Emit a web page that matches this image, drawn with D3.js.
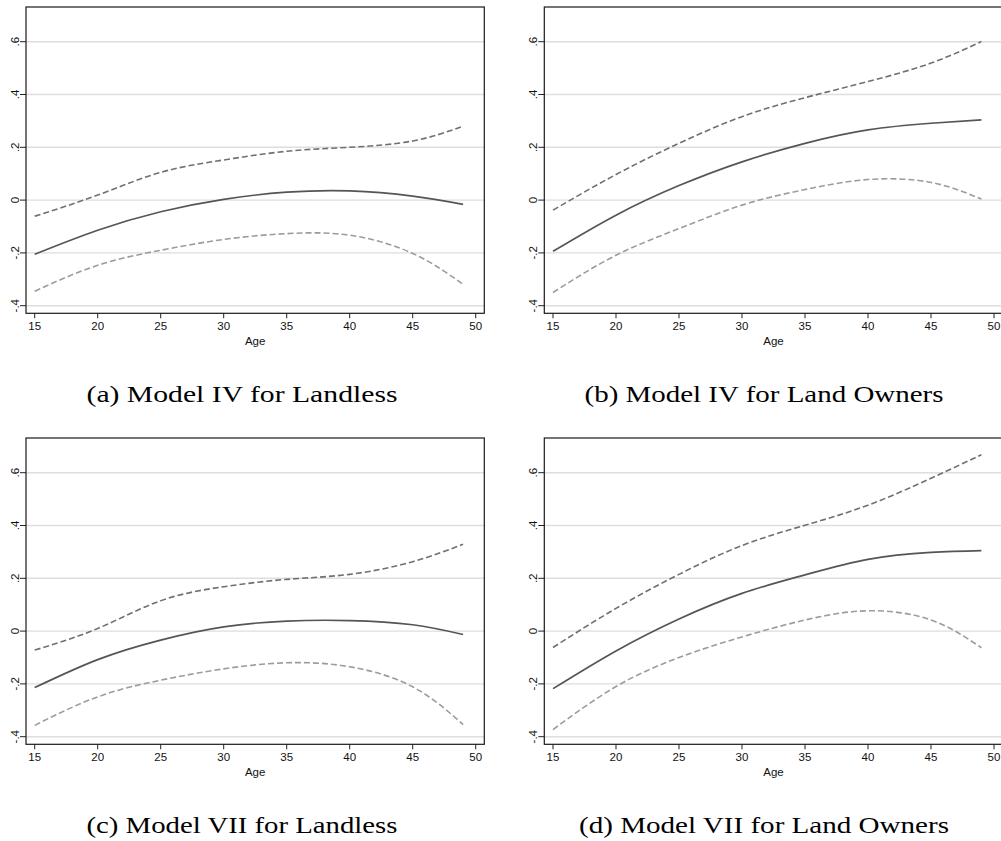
<!DOCTYPE html>
<html>
<head>
<meta charset="utf-8">
<script src="https://cdn.jsdelivr.net/npm/d3@7"></script>
<style>
  body { margin: 0; background: #fff; }
  .tick-label { font-family: "Liberation Sans", Arial, sans-serif; font-size: 11.5px; fill: #111; }
  .axis-title { font-family: "Liberation Sans", Arial, sans-serif; font-size: 11.5px; fill: #111; }
  .caption { font-family: "Liberation Serif", "DejaVu Serif", serif; font-size: 23px; fill: #000; }
</style>
</head>
<body>
<div id="chart"></div>
<script>
//=========Data=========//
// ages where the fitted curves were read off
var ages = [15, 20, 25, 30, 35, 40, 45, 49];

// (a) Model IV for Landless
var fitA = [-0.205, -0.114, -0.044, 0.003, 0.030, 0.035, 0.015, -0.016];
var upperA = [-0.061, 0.019, 0.105, 0.152, 0.185, 0.200, 0.224, 0.280];
var lowerA = [-0.345, -0.247, -0.190, -0.149, -0.127, -0.133, -0.202, -0.319];

// (b) Model IV for Land Owners
var fitB = [-0.194, -0.057, 0.055, 0.145, 0.215, 0.266, 0.291, 0.304];
var upperB = [-0.038, 0.097, 0.215, 0.316, 0.388, 0.449, 0.519, 0.601];
var lowerB = [-0.350, -0.209, -0.108, -0.019, 0.040, 0.078, 0.067, 0.004];

// (c) Model VII for Landless
var fitC = [-0.214, -0.108, -0.034, 0.016, 0.038, 0.040, 0.024, -0.013];
var upperC = [-0.072, 0.010, 0.115, 0.168, 0.196, 0.215, 0.263, 0.329];
var lowerC = [-0.357, -0.249, -0.186, -0.143, -0.120, -0.135, -0.211, -0.354];

// (d) Model VII for Land Owners
var fitD = [-0.218, -0.075, 0.046, 0.143, 0.213, 0.272, 0.298, 0.305];
var upperD = [-0.062, 0.086, 0.215, 0.324, 0.401, 0.477, 0.579, 0.668];
var lowerD = [-0.373, -0.210, -0.100, -0.022, 0.042, 0.077, 0.042, -0.063];

var captions = [
  "(a) Model IV for Landless",
  "(b) Model IV for Land Owners",
  "(c) Model VII for Landless",
  "(d) Model VII for Land Owners",
];
var captionWidths = [311, 359, 311, 370];

var xTicks = [15, 20, 25, 30, 35, 40, 45, 50];
var yTicks = [-0.4, -0.2, 0, 0.2, 0.4, 0.6];
var yTickLabels = ["-.4", "-.2", "0", ".2", ".4", ".6"];
var xTitle = "Age";

//=========Define SVG Area=========//
var svgWidth = 1001;
var svgHeight = 841;

var svg = d3
  .select("#chart")
  .append("svg")
  .attr("width", svgWidth)
  .attr("height", svgHeight);

// plot box size, same for all four panels
var boxW = 458.3;
var boxH = 306.3;

var xScale = d3.scaleLinear().domain([15, 50]).range([8.7, 449.7]);
var yScale = d3.scaleLinear().domain([-0.4, 0.6]).range([298.7, 34.7]);

var panels = [
  { left: 26, top: 7, fit: fitA, upper: upperA, lower: lowerA, capX: 242, capY: 395 },
  { left: 544.3, top: 7, fit: fitB, upper: upperB, lower: lowerB, capX: 764, capY: 395 },
  { left: 26, top: 438, fit: fitC, upper: upperC, lower: lowerC, capX: 242, capY: 826 },
  { left: 544.3, top: 438, fit: fitD, upper: upperD, lower: lowerD, capX: 764, capY: 826 },
];

var line = d3
  .line()
  .x((d) => xScale(d[0]))
  .y((d) => yScale(d[1]))
  .curve(d3.curveNatural);

panels.forEach(function (p, i) {
  var g = svg
    .append("g")
    .attr("transform", `translate(${p.left}, ${p.top})`);

  // gridlines
  g.selectAll(".grid")
    .data(yTicks)
    .enter()
    .append("line")
    .attr("x1", 0)
    .attr("x2", boxW)
    .attr("y1", (d) => yScale(d))
    .attr("y2", (d) => yScale(d))
    .attr("stroke", "#dedede")
    .attr("stroke-width", 1.4);

  // y axis ticks + rotated labels
  g.selectAll(".ytick")
    .data(yTicks)
    .enter()
    .append("line")
    .attr("x1", -6)
    .attr("x2", 0)
    .attr("y1", (d) => yScale(d))
    .attr("y2", (d) => yScale(d))
    .attr("stroke", "#222")
    .attr("stroke-width", 1);

  g.selectAll(".ylab")
    .data(yTicks)
    .enter()
    .append("text")
    .attr("class", "tick-label")
    .attr("text-anchor", "middle")
    .attr("transform", (d) => `translate(-7, ${yScale(d)}) rotate(-90)`)
    .text((d, j) => yTickLabels[j]);

  // x axis ticks + labels
  g.selectAll(".xtick")
    .data(xTicks)
    .enter()
    .append("line")
    .attr("x1", (d) => xScale(d))
    .attr("x2", (d) => xScale(d))
    .attr("y1", boxH)
    .attr("y2", boxH + 5)
    .attr("stroke", "#222")
    .attr("stroke-width", 1);

  g.selectAll(".xlab")
    .data(xTicks)
    .enter()
    .append("text")
    .attr("class", "tick-label")
    .attr("text-anchor", "middle")
    .attr("x", (d) => xScale(d))
    .attr("y", boxH + 17)
    .text((d) => d);

  g.append("text")
    .attr("class", "axis-title")
    .attr("text-anchor", "middle")
    .attr("x", boxW / 2)
    .attr("y", boxH + 32)
    .text(xTitle);

  // curves: upper CI, lower CI, fitted
  var series = [
    { vals: p.upper, color: "#707070", dash: "6,3", width: 1.6 },
    { vals: p.lower, color: "#9c9c9c", dash: "6,3", width: 1.6 },
    { vals: p.fit, color: "#555", dash: null, width: 1.7 },
  ];

  series.forEach(function (s) {
    g.append("path")
      .datum(ages.map((a, k) => [a, s.vals[k]]))
      .attr("fill", "none")
      .attr("stroke", s.color)
      .attr("stroke-width", s.width)
      .attr("stroke-dasharray", s.dash)
      .attr("d", line);
  });

  // plot border
  g.append("rect")
    .attr("x", 0)
    .attr("y", 0)
    .attr("width", boxW)
    .attr("height", boxH)
    .attr("fill", "none")
    .attr("stroke", "#1a1a1a")
    .attr("stroke-width", 1.2);

  // caption under each panel
  svg
    .append("text")
    .attr("class", "caption")
    .attr("text-anchor", "middle")
    .attr("x", p.capX)
    .attr("y", p.capY + 7)
    .attr("textLength", captionWidths[i])
    .attr("lengthAdjust", "spacingAndGlyphs")
    .text(captions[i]);
});
</script>
</body>
</html>
